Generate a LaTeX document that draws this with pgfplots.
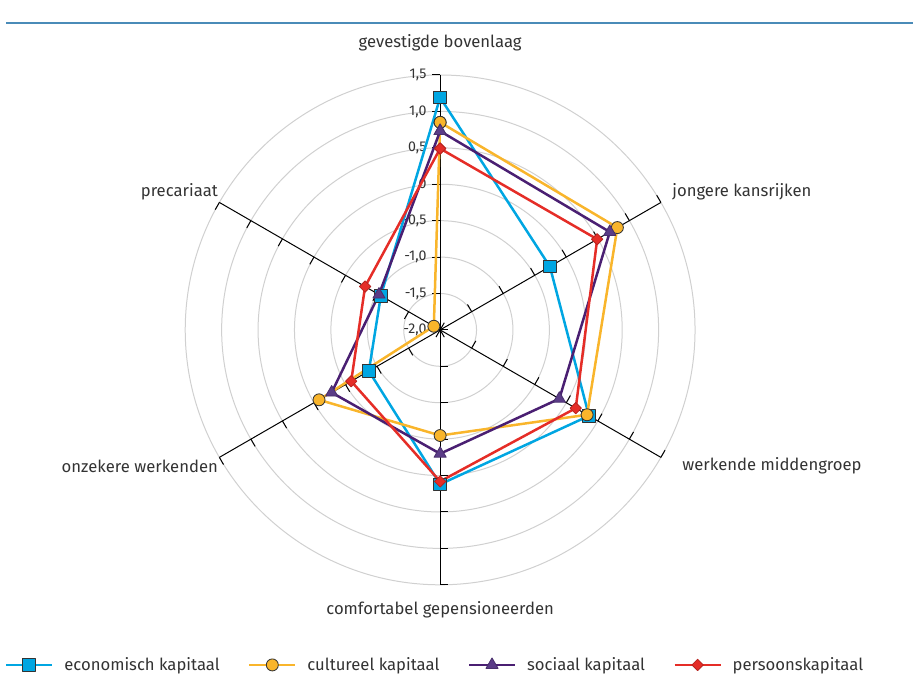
\documentclass[border=0pt]{standalone}
\usepackage{fontspec}
\setmainfont{Fira Sans}
\usepackage{pgfplots}
\usepackage{pgfplotstable}
\pgfplotsset{compat=1.18}

\definecolor{econ}{HTML}{00A6E2}
\definecolor{cult}{HTML}{F9B52B}
\definecolor{soc}{HTML}{4A1F72}
\definecolor{socfill}{HTML}{5B3C87}
\definecolor{pers}{HTML}{E52D27}
\definecolor{ringgray}{HTML}{D0D0D0}
\definecolor{txt}{HTML}{333333}
\definecolor{topline}{HTML}{4A8BB8}

% angle (deg) / score; first row repeated to close the polygon
\pgfplotstableread{
a v
90 1.19
30 -0.26
-30 0.36
-90 0.12
-150 -0.87
150 -1.06
90 1.19
}\econtab
\pgfplotstableread{
a v
90 0.85
30 0.81
-30 0.33
-90 -0.55
-150 -0.08
150 -1.90
90 0.85
}\culttab
\pgfplotstableread{
a v
90 0.73
30 0.69
-30 -0.11
-90 -0.30
-150 -0.28
150 -1.03
90 0.73
}\soctab
\pgfplotstableread{
a v
90 0.49
30 0.49
-30 0.15
-90 0.08
-150 -0.59
150 -0.81
90 0.49
}\perstab

\begin{document}
\begin{tikzpicture}[x=1pt,y=1pt]
\def\u{43.71}
\path (-264,-222) rectangle (285,198);
\draw[topline, line width=1.2pt] (-260.4,184.2) -- (283.8,184.2);

% rings and spokes
\foreach \r in {0.5,1,...,3.5}
  \draw[ringgray, line width=0.6pt] (0,0) circle[radius={\r*\u}];
\foreach \a in {90,30,-30,-90,-150,150} {
  \draw[black, line width=0.6pt] (0,0) -- (\a:{3.5*\u});
  \foreach \r in {0,0.5,...,3.5}
    \draw[black, line width=0.6pt] (\a:{\r*\u}) -- ++(\a+90:5);
}

% radial tick labels
\foreach \r/\l in {0/{-2,0},0.5/{-1,5},1/{-1,0},1.5/{-0,5},2/{0},2.5/{0,5},3/{1,0},3.5/{1,5}}
  \node[anchor=east, inner sep=0pt, text=txt, font=\fontsize{8.5}{10}\selectfont] at (-8,{\r*\u}) {\l};

% category labels
\begin{scope}[every node/.style={text=txt, font=\fontsize{10}{12}\selectfont, inner sep=0pt}]
\node at (0,172.2) {gevestigde bovenlaag};
\node[anchor=west] at (139.2,82.8) {jongere kansrijken};
\node[anchor=west] at (145.2,-81.6) {werkende middengroep};
\node at (0,-168) {comfortabel gepensioneerden};
\node[anchor=east] at (-133.2,-81.6) {onzekere werkenden};
\node[anchor=east] at (-133.2,82.8) {precariaat};
\end{scope}

\begin{axis}[
  anchor=origin, at={(0,0)},
  x=43.71pt, y=43.71pt,
  xmin=-3.6, xmax=3.6, ymin=-3.6, ymax=3.6,
  hide axis, clip=false,
  legend columns=4,
  legend style={draw=none, fill=none, at={(-0.340,-0.1389)}, anchor=west,
    font=\fontsize{10}{12}\selectfont, text=txt,
    /tikz/every odd column/.append style={column sep=4.5pt},
    /tikz/every even column/.append style={column sep=15pt}},
  legend image code/.code={
    \draw[mark repeat=2, mark phase=2, #1] plot coordinates {(0pt,0pt) (13.8pt,0pt) (27.6pt,0pt)};
  },
  every axis plot/.append style={line width=1.5pt, line join=round},
]
\addplot[econ, mark=square*, mark size=3.8pt, mark options={fill=econ, draw=txt, line width=0.5pt}]
  table[x expr={(\thisrow{v}+2)*cos(\thisrow{a})}, y expr={(\thisrow{v}+2)*sin(\thisrow{a})}] {\econtab};
\addlegendentry{economisch kapitaal}
\addplot[cult, mark=*, mark size=3.6pt, mark options={fill=cult, draw=txt, line width=0.5pt}]
  table[x expr={(\thisrow{v}+2)*cos(\thisrow{a})}, y expr={(\thisrow{v}+2)*sin(\thisrow{a})}] {\culttab};
\addlegendentry{cultureel kapitaal}
\addplot[soc, mark=triangle*, mark size=4.2pt, mark options={fill=socfill, draw=socfill!80!black, line width=0.5pt}]
  table[x expr={(\thisrow{v}+2)*cos(\thisrow{a})}, y expr={(\thisrow{v}+2)*sin(\thisrow{a})}] {\soctab};
\addlegendentry{sociaal kapitaal}
\addplot[pers, mark=square*, mark size=2.4pt, mark options={rotate=45, fill=pers, draw=pers!80!black, line width=0.5pt}]
  table[x expr={(\thisrow{v}+2)*cos(\thisrow{a})}, y expr={(\thisrow{v}+2)*sin(\thisrow{a})}] {\perstab};
\addlegendentry{persoonskapitaal}
\end{axis}
\end{tikzpicture}
\end{document}
